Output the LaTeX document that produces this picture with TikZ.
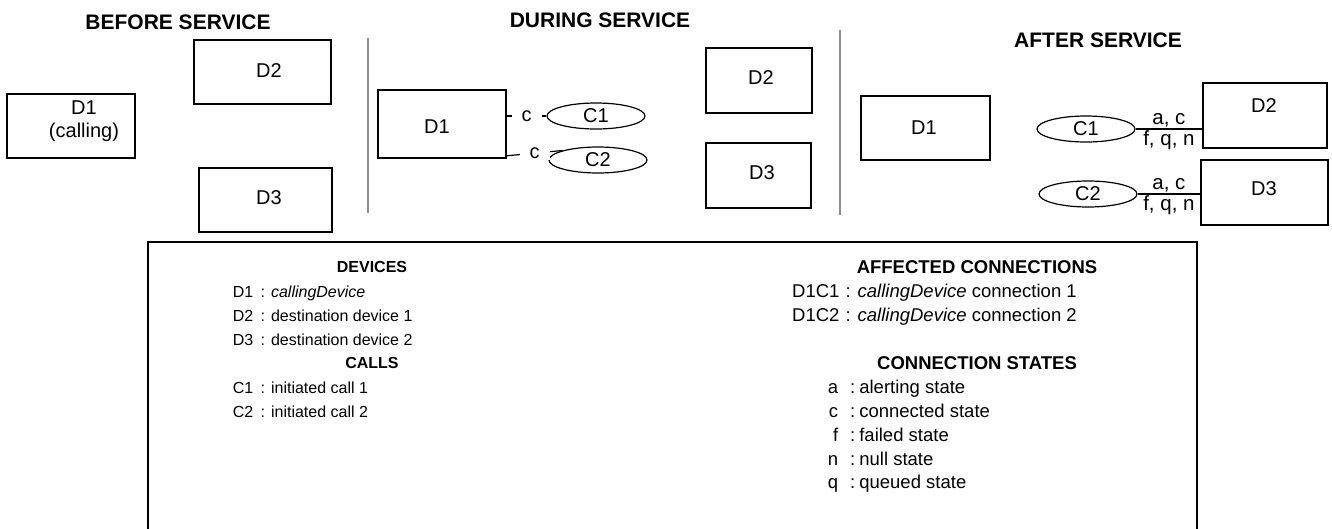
\documentclass[tikz,border=0pt]{standalone}
\usepackage{fontspec}
\setmainfont{Liberation Sans}
\usetikzlibrary{shapes.geometric}
\begin{document}
\begin{tikzpicture}[x=1pt,y=-1pt,
  dev/.style={draw, line width=1.6pt, inner sep=0pt},
  lbl/.style={font=\fontsize{20}{23}\selectfont, inner sep=0pt, align=center},
  ttl/.style={font=\fontsize{21}{25}\selectfont\bfseries, inner sep=0pt},
  callnode/.style={draw, ellipse, line width=1.2pt, minimum width=98pt, minimum height=26pt, inner sep=0pt, font=\fontsize{20}{24}\selectfont},
  sepline/.style={draw=black!45, line width=1.6pt},
  conn/.style={line width=1.2pt},
  clab/.style={fill=white, inner ysep=1pt, inner xsep=10pt, font=\fontsize{20}{24}\selectfont},
  slab/.style={inner sep=1.5pt, font=\fontsize{20.5}{23}\selectfont},
  legL/.style={font=\fontsize{16}{19}\selectfont, anchor=base west, inner sep=0pt},
  legLh/.style={font=\fontsize{16}{19}\selectfont\bfseries, anchor=base, inner sep=0pt},
  legR/.style={font=\fontsize{18.5}{22}\selectfont, anchor=base west, inner sep=0pt},
  legRh/.style={font=\fontsize{18.5}{22}\selectfont\bfseries, anchor=base, inner sep=0pt},
]
\useasboundingbox (0,0) rectangle (1332,528);
\clip (0,0) rectangle (1332,528);

% titles
\node[ttl] (t1) at (178,22) {BEFORE SERVICE};
\node[ttl] (t2) at (600,20) {DURING SERVICE};
\node[ttl] (t3) at (1098,40) {AFTER SERVICE};

% before service
\node[dev, minimum width=128pt, minimum height=64pt] (b1) at (71,126) {};
\node[lbl] (b1t) at (84,121) {D1\\(calling)};
\node[dev, minimum width=137pt, minimum height=64pt] (b2) at (262.5,72) {};
\node[lbl] (b2t) at (269,71) {D2};
\node[dev, minimum width=133pt, minimum height=64pt] (b3) at (265.5,200) {};
\node[lbl] (b3t) at (269,198) {D3};
\draw[sepline] (368,38) -- (368,213);

% during service
\node[dev, minimum width=128pt, minimum height=68pt] (d1) at (442,124) {};
\node[lbl] (d1t) at (437,127) {D1};
\node[callnode] (c1) at (596,116) {C1};
\node[callnode] (c2) at (598,160) {C2};
\draw[conn] (d1.east |- c1.west) -- node[clab] (l1) {c} (c1.west);
\draw[conn] ([yshift=3pt]d1.south east) -- node[clab] (l2) {c} (c2.165);
\node[dev, minimum width=106pt, minimum height=65pt] (d2) at (759,80.5) {};
\node[lbl] (d2t) at (761,78) {D2};
\node[dev, minimum width=105pt, minimum height=65pt] (d3) at (758.5,175.5) {};
\node[lbl] (d3t) at (762,173) {D3};
\draw[sepline] (840,30) -- (840,215);

% after service
\node[dev, minimum width=129pt, minimum height=64pt] (e1) at (925.5,128) {};
\node[lbl] (e1t) at (924,128) {D1};
\node[callnode] (f1) at (1086,129) {C1};
\node[callnode] (f2) at (1088,194) {C2};
\node[dev, minimum width=124pt, minimum height=65pt] (e2) at (1265,115.5) {};
\node[lbl] (e2t) at (1264,106) {D2};
\node[dev, minimum width=127pt, minimum height=65pt] (e3) at (1264.5,192.5) {};
\node[lbl] (e3t) at (1264,189) {D3};
\draw[conn] (f1.east) -- node[slab, above] (g1) {a, c} node[slab, below] (h1) {f, q, n} (e2.west |- f1.east);
\draw[conn] (f2.east) -- node[slab, above] (g2) {a, c} node[slab, below] (h2) {f, q, n} (e3.west |- f2.east);

% legend box
\draw[line width=1.6pt] (148,540) -- (148,242) -- (1197,242) -- (1197,540);

% legend left
\node[legLh] (hd) at (372,272.7) {DEVICES};
\node[legL] (r1) at (232.7,297.7) {\makebox[27.8pt][l]{D1}: \textit{callingDevice}};
\node[legL] (r2) at (232.7,321) {\makebox[27.8pt][l]{D2}: destination device 1};
\node[legL] (r3) at (232.7,345) {\makebox[27.8pt][l]{D3}: destination device 2};
\node[legLh] (hc) at (372,368) {CALLS};
\node[legL] (r4) at (232.7,393) {\makebox[27.8pt][l]{C1}: initiated call 1};
\node[legL] (r5) at (232.7,417) {\makebox[27.8pt][l]{C2}: initiated call 2};

% legend right
\node[legRh] (ha) at (977,273) {AFFECTED CONNECTIONS};
\node[legR] (s1) at (792,297) {\makebox[53.5pt][l]{D1C1}: \textit{callingDevice} connection 1};
\node[legR] (s2) at (792,321) {\makebox[53.5pt][l]{D1C2}: \textit{callingDevice} connection 2};
\node[legRh] (hs) at (977,369) {CONNECTION STATES};
\node[legR] (s3) at (819,393) {\makebox[19pt][r]{a}\hspace{12pt}:\hspace{4pt}alerting state};
\node[legR] (s4) at (819,417) {\makebox[19pt][r]{c}\hspace{12pt}:\hspace{4pt}connected state};
\node[legR] (s5) at (819,441) {\makebox[19pt][r]{f}\hspace{12pt}:\hspace{4pt}failed state};
\node[legR] (s6) at (819,465) {\makebox[19pt][r]{n}\hspace{12pt}:\hspace{4pt}null state};
\node[legR] (s7) at (819,488) {\makebox[19pt][r]{q}\hspace{12pt}:\hspace{4pt}queued state};
\end{tikzpicture}
\end{document}
